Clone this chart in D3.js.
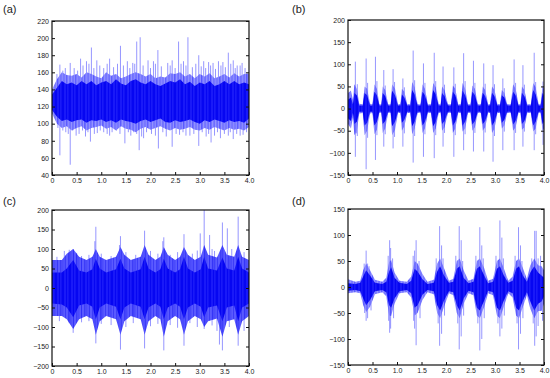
<!DOCTYPE html>
<html>
<head>
<meta charset="utf-8">
<script src="https://cdn.jsdelivr.net/npm/d3@7"></script>
<style>
  body { margin: 0; background: #fff; }
  svg { display: block; }
  text { font-family: "Liberation Sans", Arial, sans-serif; }
</style>
</head>
<body>
<svg id="chart"></svg>
<script>
// envelope rows: [t, coreHi, coreLo, haloHi, haloLo]
const envA = [
  [0.0, 134, 116, 140, 112], [0.1, 142, 108, 152, 100], [0.2, 150, 103, 160, 95],
  [0.3, 146, 105, 157, 97], [0.4, 148, 102, 156, 92], [0.5, 145, 104, 158, 95],
  [0.6, 150, 105, 154, 97], [0.7, 146, 101, 160, 92], [0.8, 150, 104, 158, 95],
  [0.9, 145, 103, 155, 96], [1.0, 148, 105, 153, 98], [1.1, 150, 102, 160, 94],
  [1.2, 146, 104, 156, 96], [1.3, 152, 101, 158, 92], [1.4, 147, 105, 153, 97],
  [1.5, 145, 103, 155, 94], [1.6, 150, 102, 158, 93], [1.7, 152, 100, 160, 90],
  [1.8, 148, 103, 158, 94], [1.9, 146, 105, 155, 96], [2.0, 150, 102, 158, 93],
  [2.1, 146, 104, 153, 95], [2.2, 144, 106, 155, 97], [2.3, 147, 102, 154, 94],
  [2.4, 150, 101, 159, 92], [2.5, 148, 104, 158, 95], [2.6, 152, 102, 160, 93],
  [2.7, 146, 103, 155, 94], [2.8, 149, 105, 158, 96], [2.9, 144, 102, 153, 93],
  [3.0, 148, 100, 158, 92], [3.1, 146, 104, 155, 95], [3.2, 150, 102, 159, 93],
  [3.3, 144, 105, 153, 96], [3.4, 146, 103, 155, 94], [3.5, 150, 101, 158, 92],
  [3.6, 146, 104, 154, 95], [3.7, 150, 102, 159, 93], [3.8, 146, 103, 155, 94],
  [3.9, 148, 101, 158, 92], [4.0, 146, 106, 158, 96]
];
// spikes: [t, from, to]
const spikesA = [
  [0.16, 125, 169], [0.37, 125, 171], [0.58, 125, 176], [0.70, 125, 173], [0.80, 125, 189],
  [0.91, 125, 174], [1.17, 125, 176], [1.39, 125, 191], [1.53, 125, 173], [1.64, 125, 171],
  [1.72, 125, 196], [1.79, 125, 201], [1.95, 125, 174], [2.06, 125, 173], [2.15, 125, 186],
  [2.35, 125, 171], [2.44, 125, 174], [2.57, 125, 196], [2.67, 125, 173], [2.76, 125, 201],
  [2.98, 125, 180], [3.08, 125, 173], [3.18, 125, 172], [3.27, 125, 171], [3.38, 125, 173],
  [3.47, 125, 172], [3.58, 125, 183], [3.68, 125, 174], [3.76, 125, 168], [3.86, 125, 171],
  [3.96, 125, 160],
  [0.16, 125, 63], [0.37, 125, 52], [0.28, 125, 90], [0.49, 125, 86], [0.68, 125, 85],
  [0.78, 125, 79], [0.92, 125, 89], [1.17, 125, 86], [1.31, 125, 92], [1.48, 125, 77],
  [1.66, 125, 90], [1.77, 125, 69], [1.86, 125, 83], [2.16, 125, 71], [2.44, 125, 73],
  [2.59, 125, 87], [2.80, 125, 86], [2.98, 125, 74], [3.13, 125, 85], [3.23, 125, 78],
  [3.42, 125, 83], [3.68, 125, 82], [3.88, 125, 87],
  [0.10, 125, 158], [0.22, 125, 162], [0.27, 125, 165], [0.45, 125, 165], [0.52, 125, 162],
  [0.63, 125, 168], [0.75, 125, 170], [0.85, 125, 165], [0.97, 125, 168], [1.05, 125, 165],
  [1.12, 125, 170], [1.25, 125, 166], [1.33, 125, 170], [1.45, 125, 168], [1.58, 125, 165],
  [1.68, 125, 170], [1.85, 125, 168], [2.00, 125, 165], [2.10, 125, 170], [2.22, 125, 167],
  [2.40, 125, 168], [2.50, 125, 165], [2.62, 125, 170], [2.72, 125, 168], [2.85, 125, 166],
  [2.92, 125, 170], [3.03, 125, 167], [3.12, 125, 165], [3.22, 125, 168], [3.32, 125, 164],
  [3.43, 125, 168], [3.52, 125, 166], [3.63, 125, 170], [3.72, 125, 165], [3.82, 125, 168],
  [3.92, 125, 165],
  [0.12, 125, 95], [0.22, 125, 92], [0.33, 125, 88], [0.42, 125, 92], [0.55, 125, 88],
  [0.62, 125, 92], [0.73, 125, 90], [0.86, 125, 88], [0.98, 125, 92], [1.05, 125, 90],
  [1.12, 125, 88], [1.22, 125, 90], [1.38, 125, 88], [1.55, 125, 90], [1.60, 125, 86],
  [1.72, 125, 88], [1.82, 125, 85], [1.92, 125, 90], [2.02, 125, 88], [2.10, 125, 86],
  [2.25, 125, 90], [2.32, 125, 85], [2.52, 125, 88], [2.66, 125, 90], [2.72, 125, 86],
  [2.88, 125, 88], [3.05, 125, 90], [3.18, 125, 88], [3.30, 125, 86], [3.36, 125, 90],
  [3.50, 125, 88], [3.58, 125, 86], [3.62, 125, 90], [3.75, 125, 88], [3.82, 125, 86],
  [3.95, 125, 90]
];

const envB = [
  [0.00, 20, -22, 35, -35], [0.06, 25, -28, 40, -45], [0.10, 10, -10, 20, -20],
  [0.13, 35, -35, 55, -60], [0.18, 30, -30, 45, -50], [0.23, 7, -7, 11, -11],
  [0.30, 7, -7, 10, -10], [0.34, 35, -38, 50, -60], [0.39, 30, -32, 45, -50],
  [0.45, 7, -7, 11, -11], [0.50, 7, -7, 10, -10], [0.54, 38, -38, 55, -58],
  [0.59, 30, -30, 45, -48], [0.64, 7, -7, 10, -10], [0.68, 7, -7, 10, -10],
  [0.71, 35, -35, 50, -55], [0.76, 28, -28, 42, -45], [0.82, 7, -7, 10, -10],
  [0.87, 7, -7, 10, -10], [0.90, 40, -40, 55, -60], [0.96, 30, -30, 45, -48],
  [1.02, 7, -7, 10, -10], [1.07, 7, -7, 10, -10], [1.10, 32, -32, 45, -50],
  [1.15, 25, -25, 38, -40], [1.21, 7, -7, 10, -10], [1.27, 7, -7, 10, -10],
  [1.31, 42, -40, 60, -58], [1.36, 32, -30, 48, -45], [1.42, 7, -7, 10, -10],
  [1.48, 7, -7, 10, -10], [1.52, 38, -38, 55, -55], [1.57, 30, -30, 45, -45],
  [1.63, 7, -7, 10, -10], [1.69, 7, -7, 10, -10], [1.74, 42, -40, 58, -55],
  [1.79, 32, -30, 48, -45], [1.85, 7, -7, 10, -10], [1.89, 7, -7, 10, -10],
  [1.92, 35, -35, 50, -50], [1.97, 28, -28, 42, -42], [2.04, 7, -7, 10, -10],
  [2.10, 7, -7, 10, -10], [2.14, 38, -38, 52, -55], [2.19, 30, -30, 45, -45],
  [2.25, 7, -7, 10, -10], [2.30, 7, -7, 10, -10], [2.34, 40, -38, 58, -52],
  [2.39, 30, -30, 45, -45], [2.45, 7, -7, 10, -10], [2.50, 7, -7, 10, -10],
  [2.54, 38, -36, 52, -50], [2.59, 30, -28, 45, -42], [2.65, 7, -7, 10, -10],
  [2.71, 7, -7, 10, -10], [2.75, 36, -35, 50, -50], [2.80, 28, -28, 42, -42],
  [2.86, 7, -7, 10, -10], [2.90, 7, -7, 10, -10], [2.94, 36, -38, 50, -55],
  [2.99, 28, -30, 42, -45], [3.05, 7, -7, 10, -10], [3.10, 7, -7, 10, -10],
  [3.14, 30, -32, 42, -45], [3.19, 25, -25, 36, -38], [3.25, 7, -7, 10, -10],
  [3.32, 7, -7, 10, -10], [3.37, 38, -36, 55, -50], [3.42, 30, -28, 45, -42],
  [3.48, 7, -7, 10, -10], [3.52, 7, -7, 10, -10], [3.55, 36, -35, 50, -48],
  [3.60, 28, -28, 42, -42], [3.66, 7, -7, 10, -10], [3.73, 7, -7, 10, -10],
  [3.78, 42, -38, 58, -52], [3.83, 32, -30, 48, -45], [3.89, 7, -7, 10, -10],
  [3.93, 7, -7, 10, -10], [3.97, 35, -35, 50, -50], [4.00, 30, -30, 45, -45]
];
const spikesB = [
  [0.15, 0, 106], [0.15, 0, -109], [0.17, 0, -56], [0.05, 0, 40], [0.37, 0, 113], [0.37, 0, -137],
  [0.56, 0, 117], [0.56, 0, -116], [0.73, 0, 87], [0.73, 0, -86], [0.92, 0, 89], [0.92, 0, -90],
  [1.12, 0, 68], [1.12, 0, -86], [1.33, 0, 131], [1.33, 0, -122], [1.54, 0, 102], [1.54, 0, -109],
  [1.76, 0, 126], [1.76, 0, -112], [1.94, 0, 95], [1.94, 0, -86], [2.16, 0, 93], [2.16, 0, -109],
  [2.36, 0, 125], [2.36, 0, -94], [2.56, 0, 108], [2.56, 0, -97], [2.77, 0, 102], [2.77, 0, -97],
  [2.96, 0, 98], [2.96, 0, -120], [3.16, 0, 68], [3.16, 0, -94], [3.39, 0, 111], [3.39, 0, -94],
  [3.57, 0, 98], [3.57, 0, -86], [3.80, 0, 126], [3.80, 0, -94], [3.98, 0, 61], [3.98, 0, -82],
  [0.19, 0, 55], [0.19, 0, -62], [0.40, 0, 58], [0.40, 0, -66], [0.59, 0, 62], [0.59, 0, -60],
  [0.76, 0, 52], [0.76, 0, -58], [0.95, 0, 60], [0.95, 0, -64], [1.15, 0, 48], [1.15, 0, -56],
  [1.36, 0, 64], [1.36, 0, -62], [1.57, 0, 58], [1.57, 0, -58], [1.79, 0, 62], [1.79, 0, -60],
  [1.97, 0, 54], [1.97, 0, -55], [2.19, 0, 56], [2.19, 0, -60], [2.39, 0, 62], [2.39, 0, -58],
  [2.59, 0, 58], [2.59, 0, -55], [2.80, 0, 56], [2.80, 0, -54], [2.99, 0, 55], [2.99, 0, -62],
  [3.19, 0, 46], [3.19, 0, -52], [3.42, 0, 58], [3.42, 0, -55], [3.60, 0, 54], [3.60, 0, -52],
  [3.83, 0, 60], [3.83, 0, -58]
];

const envC = [
  [0.00, 40, -40, 72, -72], [0.20, 40, -42, 72, -72], [0.30, 50, -50, 88, -80],
  [0.43, 72, -75, 100, -105], [0.55, 45, -45, 80, -80], [0.70, 40, -40, 72, -72],
  [0.82, 48, -48, 80, -80], [0.89, 75, -80, 100, -120], [0.97, 50, -50, 80, -85],
  [1.10, 40, -40, 72, -72], [1.30, 48, -48, 80, -80], [1.39, 75, -80, 105, -120],
  [1.47, 50, -50, 85, -85], [1.60, 40, -40, 72, -72], [1.80, 48, -48, 80, -80],
  [1.88, 80, -80, 110, -120], [1.96, 50, -50, 85, -85], [2.10, 40, -40, 72, -72],
  [2.20, 48, -48, 80, -80], [2.27, 75, -80, 105, -125], [2.35, 50, -50, 85, -85],
  [2.50, 40, -40, 72, -72], [2.60, 48, -48, 80, -80], [2.68, 80, -80, 105, -120],
  [2.76, 50, -50, 85, -85], [2.90, 40, -40, 72, -72], [3.02, 48, -48, 80, -80],
  [3.09, 80, -75, 110, -100], [3.17, 50, -50, 85, -85], [3.35, 45, -45, 78, -78],
  [3.46, 78, -85, 110, -125], [3.55, 50, -50, 85, -85], [3.70, 45, -45, 80, -80],
  [3.78, 80, -85, 110, -120], [3.86, 50, -50, 80, -85], [4.00, 40, -40, 72, -72]
];
const spikesC = [
  [0.43, 0, 100], [0.43, 0, -115], [0.89, 0, 157], [0.87, 0, 120], [0.89, 0, -142],
  [1.39, 0, 133], [1.37, 0, 110], [1.39, 0, -158], [1.88, 0, 147], [1.88, 0, -155],
  [2.27, 0, 130], [2.25, 0, 120], [2.27, 0, -160], [2.68, 0, 138], [2.68, 0, -148],
  [3.01, 0, 140], [3.09, 0, 200], [3.09, 0, -105], [3.20, 0, 136], [3.46, 0, 168],
  [3.56, 0, 153], [3.46, 0, -160], [3.78, 0, 183], [3.78, 0, -148], [3.40, 0, -145],
  [0.10, 0, 80], [0.25, 0, 95], [0.35, 0, 98], [0.50, 0, 90], [0.60, 0, 82], [0.75, 0, 85],
  [1.00, 0, 88], [1.20, 0, 82], [1.50, 0, 92], [1.70, 0, 85], [2.00, 0, 95], [2.15, 0, 88],
  [2.40, 0, 85], [2.55, 0, 92], [2.85, 0, 88], [2.95, 0, 96], [3.25, 0, 100], [3.30, 0, 95],
  [3.65, 0, 100], [3.90, 0, 92],
  [0.15, 0, -85], [0.35, 0, -90], [0.60, 0, -88], [0.75, 0, -85], [1.00, 0, -92], [1.20, 0, -95],
  [1.50, 0, -100], [1.65, 0, -90], [2.00, 0, -98], [2.15, 0, -92], [2.40, 0, -95], [2.55, 0, -102],
  [2.80, 0, -90], [2.95, 0, -100], [3.25, 0, -96], [3.35, 0, -110], [3.60, 0, -100], [3.90, 0, -110]
];

const envD = [
  [0.00, 7, -7, 15, -12], [0.15, 6, -6, 10, -10], [0.25, 8, -8, 12, -12],
  [0.31, 20, -22, 32, -35], [0.37, 32, -35, 45, -48], [0.45, 22, -25, 32, -38],
  [0.55, 8, -8, 14, -14], [0.70, 6, -6, 10, -10], [0.78, 10, -10, 18, -18],
  [0.84, 30, -35, 48, -55], [0.88, 38, -40, 52, -56], [0.95, 18, -22, 28, -32],
  [1.05, 8, -8, 12, -12], [1.20, 6, -6, 10, -10], [1.29, 12, -12, 20, -20],
  [1.36, 35, -40, 50, -55], [1.42, 30, -35, 45, -50], [1.52, 15, -15, 25, -25],
  [1.62, 6, -6, 10, -10], [1.75, 8, -8, 14, -14], [1.82, 30, -35, 45, -50],
  [1.88, 40, -45, 55, -60], [1.96, 22, -26, 36, -38], [2.06, 8, -8, 12, -12],
  [2.15, 10, -10, 16, -16], [2.22, 35, -35, 50, -50], [2.28, 40, -45, 55, -60],
  [2.36, 18, -22, 32, -32], [2.46, 7, -7, 12, -12], [2.56, 10, -10, 16, -16],
  [2.63, 35, -40, 50, -55], [2.69, 40, -45, 55, -60], [2.78, 22, -26, 36, -38],
  [2.86, 7, -7, 12, -12], [2.96, 10, -10, 16, -16], [3.04, 35, -40, 50, -55],
  [3.10, 40, -45, 55, -60], [3.18, 22, -26, 36, -38], [3.27, 8, -8, 12, -12],
  [3.36, 12, -12, 20, -20], [3.43, 35, -40, 50, -55], [3.49, 40, -45, 55, -60],
  [3.57, 22, -26, 36, -38], [3.65, 10, -10, 16, -16], [3.72, 28, -28, 42, -42],
  [3.80, 40, -45, 55, -60], [3.88, 28, -32, 42, -46], [3.95, 22, -28, 40, -46],
  [4.00, 18, -18, 32, -32]
];
const spikesD = [
  [0.37, 0, 70], [0.37, 0, -65], [0.40, 0, 45], [0.40, 0, -60], [0.85, 0, 90], [0.85, 0, -88],
  [0.87, 0, 75], [0.87, 0, -80], [1.39, 0, 90], [1.39, 0, -112], [1.36, 0, 70], [1.36, 0, -80],
  [1.87, 0, 117], [1.87, 0, -113], [1.91, 0, 80], [1.91, 0, -90], [2.27, 0, 117], [2.27, 0, -120],
  [2.31, 0, 90], [2.31, 0, -95], [2.69, 0, 115], [2.69, 0, -122], [2.73, 0, 80], [2.73, 0, -100],
  [3.10, 0, 128], [3.10, 0, -95], [3.14, 0, 95], [3.14, 0, -80], [3.48, 0, 115], [3.48, 0, -120],
  [3.52, 0, 80], [3.52, 0, -90], [3.81, 0, 108], [3.81, 0, -113], [3.84, 0, 108], [3.84, 0, -95],
  [3.88, 0, 55], [3.88, 0, -75],
  [0.33, 0, 45], [0.34, 0, -50], [0.43, 0, 40], [0.47, 0, -45], [0.82, 0, 60], [0.83, 0, -65],
  [0.91, 0, 55], [0.93, 0, -60], [1.33, 0, 60], [1.34, 0, -65], [1.45, 0, 50], [1.47, 0, -60],
  [1.80, 0, 55], [1.84, 0, -70], [1.94, 0, 55], [1.97, 0, -55], [2.20, 0, 60], [2.24, 0, -70],
  [2.34, 0, 50], [2.36, 0, -55], [2.61, 0, 60], [2.65, 0, -70], [2.76, 0, 55], [2.78, 0, -60],
  [3.02, 0, 60], [3.06, 0, -70], [3.17, 0, 55], [3.19, 0, -55], [3.41, 0, 60], [3.45, 0, -70],
  [3.55, 0, 50], [3.57, 0, -60], [3.75, 0, 55], [3.78, 0, -70], [3.93, 0, 60], [3.97, 0, -65]
];

const xTicks = [0, 0.5, 1.0, 1.5, 2.0, 2.5, 3.0, 3.5, 4.0];
const yTicksA = [40, 60, 80, 100, 120, 140, 160, 180, 200, 220];
const yTicksB = [-150, -100, -50, 0, 50, 100, 150, 200];
const yTicksC = [-200, -150, -100, -50, 0, 50, 100, 150, 200];
const yTicksD = [-150, -100, -50, 0, 50, 100, 150];

const panels = [
  { label: "(a)", lx: 3, ly: 13, box: [52, 21, 249, 175], dom: [40, 220], ticks: yTicksA, env: envA, spikes: spikesA, halo: "haloTex" },
  { label: "(b)", lx: 292, ly: 13, box: [348, 20, 544, 175], dom: [-150, 200], ticks: yTicksB, env: envB, spikes: spikesB, halo: "haloTex" },
  { label: "(c)", lx: 3, ly: 205, box: [52, 210, 249, 366], dom: [-200, 200], ticks: yTicksC, env: envC, spikes: spikesC, halo: "midTex" },
  { label: "(d)", lx: 292, ly: 205, box: [348, 209, 544, 365], dom: [-150, 150], ticks: yTicksD, env: envD, spikes: spikesD, halo: "haloTex" }
];

const svg = d3.select("#chart").attr("width", 550).attr("height", 378);

// streaky fills, to look like a dense trace
const defs = svg.append("defs");
function stripes(id, w, base, streak, bars) {
  const pat = defs.append("pattern").attr("id", id)
    .attr("patternUnits", "userSpaceOnUse").attr("width", w).attr("height", 20);
  pat.append("rect").attr("width", w).attr("height", 20).attr("fill", base);
  bars.forEach(s => pat.append("rect")
    .attr("x", s[0]).attr("width", s[1]).attr("height", 20).attr("fill", streak));
}
stripes("haloTex", 9, "#8484ff", "#4a4aff", [[0.5, 1], [3, 1.5], [6.5, 1]]);
stripes("midTex", 8, "#4444ff", "#2222f6", [[1, 1], [4, 1.5], [6.5, 0.8]]);
stripes("coreTex", 7, "#0606f2", "#2c2cff", [[1.5, 1], [4.5, 0.8]]);

panels.forEach((p, i) => {
  const [x0, y0, x1, y1] = p.box;
  const x = d3.scaleLinear().domain([0, 4]).range([x0, x1]);
  const y = d3.scaleLinear().domain(p.dom).range([y1, y0]);
  const g = svg.append("g");

  g.append("clipPath").attr("id", "clip" + i)
    .append("rect").attr("x", x0).attr("y", y0).attr("width", x1 - x0).attr("height", y1 - y0);
  const plot = g.append("g").attr("clip-path", `url(#clip${i})`);

  const halo = d3.area().x(d => x(d[0])).y0(d => y(d[4])).y1(d => y(d[3]));
  const core = d3.area().x(d => x(d[0])).y0(d => y(d[2])).y1(d => y(d[1]));

  plot.selectAll("line.spike").data(p.spikes).enter().append("line")
    .attr("class", "spike")
    .attr("x1", d => x(d[0])).attr("x2", d => x(d[0]))
    .attr("y1", d => y(d[1])).attr("y2", d => y(d[2]))
    .attr("stroke", "#5050ff").attr("stroke-opacity", 0.6).attr("stroke-width", 1);
  plot.append("path").datum(p.env).attr("d", halo)
    .attr("fill", `url(#${p.halo})`).attr("opacity", 0.88);
  plot.append("path").datum(p.env).attr("d", core)
    .attr("fill", "url(#coreTex)");

  // axes, ticks pointing inward
  const ax = g.append("g").attr("transform", `translate(0,${y1})`)
    .call(d3.axisBottom(x).tickValues(xTicks).tickSize(-3).tickPadding(3)
      .tickFormat(d => d === 0 ? "0" : d3.format(".1f")(d)));
  const ay = g.append("g").attr("transform", `translate(${x0},0)`)
    .call(d3.axisLeft(y).tickValues(p.ticks).tickSize(-3).tickPadding(3));
  const ar = g.append("g").attr("transform", `translate(${x1},0)`)
    .call(d3.axisRight(y).tickValues(p.ticks).tickSize(-3).tickFormat(""));
  [ax, ay, ar].forEach(a => {
    a.selectAll("text").attr("font-size", 7).attr("fill", "#222")
      .attr("font-family", "Liberation Sans, Arial, sans-serif");
    a.selectAll("line").attr("stroke", "#111");
    a.select(".domain").remove();
  });

  g.append("rect").attr("x", x0).attr("y", y0).attr("width", x1 - x0).attr("height", y1 - y0)
    .attr("fill", "none").attr("stroke", "#111").attr("stroke-width", 1.2);

  svg.append("text").attr("x", p.lx).attr("y", p.ly)
    .attr("font-size", 11).attr("fill", "#222").text(p.label);
});
</script>
</body>
</html>
